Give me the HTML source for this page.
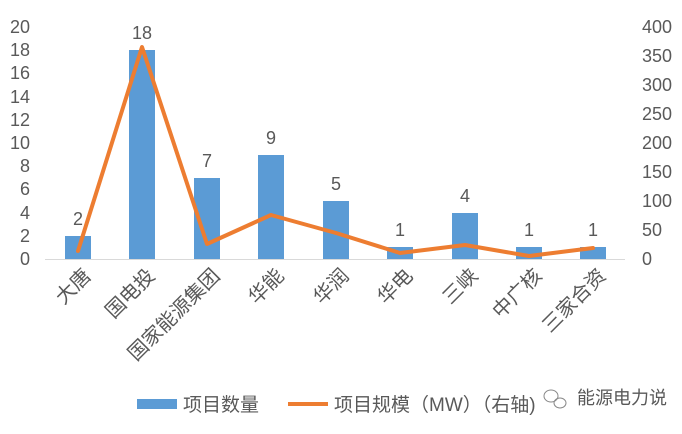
<!DOCTYPE html>
<html><head><meta charset="utf-8"><style>
body{margin:0;background:#fff}
svg text{font-family:"Liberation Sans","Noto Sans CJK SC",sans-serif;fill:#595959}
</style></head><body>
<svg width="682" height="429" viewBox="0 0 682 429" xmlns="http://www.w3.org/2000/svg">
<g font-size="18" text-anchor="end">
<text x="30" y="33">20</text><text x="30" y="56">18</text><text x="30" y="79">16</text><text x="30" y="103">14</text><text x="30" y="126">12</text><text x="30" y="149">10</text><text x="30" y="172">8</text><text x="30" y="195">6</text><text x="30" y="219">4</text><text x="30" y="242">2</text><text x="30" y="265">0</text>
</g>
<g font-size="18" text-anchor="start">
<text x="642" y="33">400</text><text x="642" y="62">350</text><text x="642" y="91">300</text><text x="642" y="120">250</text><text x="642" y="149">200</text><text x="642" y="178">150</text><text x="642" y="207">100</text><text x="642" y="236">50</text><text x="642" y="265">0</text>
</g>
<line x1="45" y1="259.5" x2="625" y2="259.5" stroke="#d9d9d9" stroke-width="1"/>
<g fill="#5b9bd5">
<rect x="65" y="236" width="26" height="23"/>
<rect x="129" y="50" width="26" height="209"/>
<rect x="194" y="178" width="26" height="81"/>
<rect x="258" y="155" width="26" height="104"/>
<rect x="323" y="201" width="26" height="58"/>
<rect x="387" y="247" width="26" height="12"/>
<rect x="452" y="213" width="26" height="46"/>
<rect x="516" y="247" width="26" height="12"/>
<rect x="580" y="247" width="26" height="12"/>
</g>
<g font-size="18" text-anchor="middle" fill="#404040">
<text x="78" y="225">2</text><text x="142" y="39">18</text><text x="207" y="167">7</text><text x="271" y="144">9</text><text x="336" y="190">5</text><text x="400" y="236">1</text><text x="465" y="202">4</text><text x="529" y="236">1</text><text x="593" y="236">1</text>
</g>
<polyline points="78,251 142,47 207,244 271,215 336,233 400,253 465,245 529,256 593,248" fill="none" stroke="#ed7d31" stroke-width="4" stroke-linejoin="round" stroke-linecap="round"/>
<g font-size="20" text-anchor="end">
<text transform="translate(92,277) rotate(-45)">大唐</text>
<text transform="translate(156,277) rotate(-45)">国电投</text>
<text transform="translate(221,277) rotate(-45)">国家能源集团</text>
<text transform="translate(285,277) rotate(-45)">华能</text>
<text transform="translate(350,277) rotate(-45)">华润</text>
<text transform="translate(414,277) rotate(-45)">华电</text>
<text transform="translate(479,277) rotate(-45)">三峡</text>
<text transform="translate(543,277) rotate(-45)">中广核</text>
<text transform="translate(607,277) rotate(-45)">三家合资</text>
</g>
<rect x="137" y="399" width="40" height="10" fill="#5b9bd5"/>
<text x="183" y="411" font-size="19">项目数量</text>
<line x1="288" y1="404" x2="328" y2="404" stroke="#ed7d31" stroke-width="4"/>
<text x="334" y="411" font-size="19">项目规模（MW）（右轴)</text>
<g stroke="#888" fill="none" stroke-width="1">
<ellipse cx="551" cy="396" rx="7" ry="6"/><ellipse cx="560" cy="403" rx="6" ry="5"/>
</g>
<text x="577" y="404" font-size="18" fill="#555">能源电力说</text>
</svg>
</body></html>
